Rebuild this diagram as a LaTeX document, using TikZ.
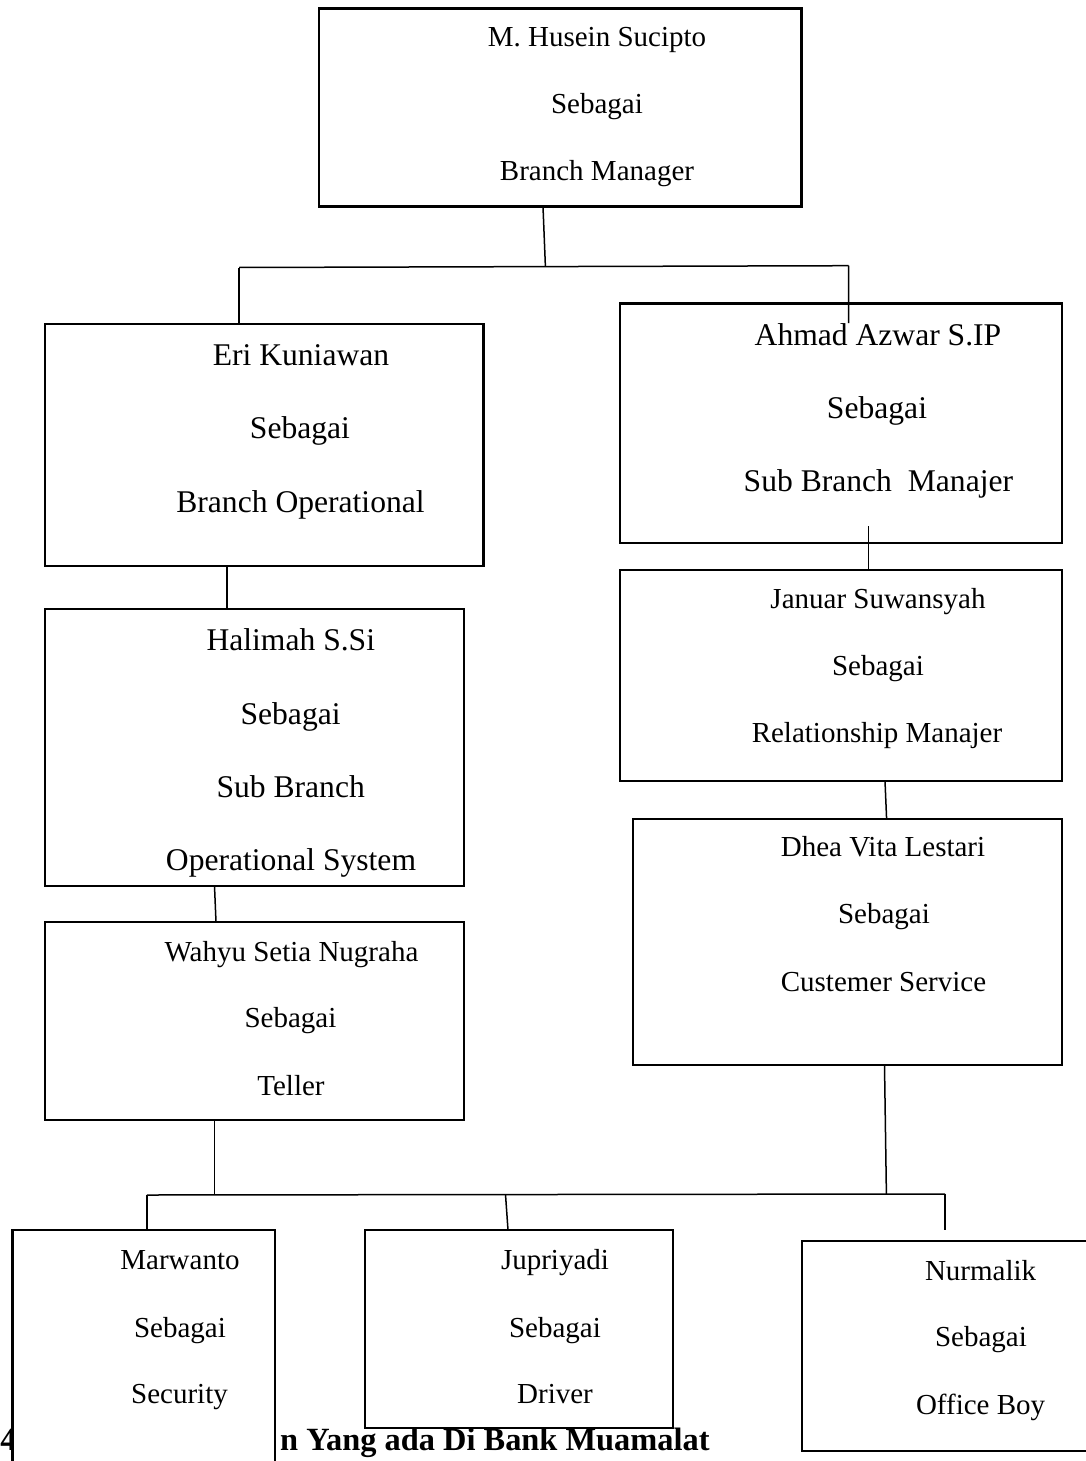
\documentclass[tikz,border=0pt]{standalone}
\usepackage{fontspec}
\setmainfont{Liberation Serif}
\newcommand\orgbox[5]{\node[box,minimum width={(#4-#2)*0.5pt},minimum height={(#5-#3)*0.5pt}] (#1) at (#2,#3) {};}
\begin{document}
\begin{tikzpicture}[x=0.5pt,y=-0.5pt,
  box/.style={draw=black, line width=1.3pt, fill=white, inner sep=0pt, outer sep=0pt, anchor=north west},
  conn/.style={draw=black, line width=0.75pt},
  sm/.style={inner sep=0pt, anchor=base, font=\fontsize{14.5pt}{17pt}\selectfont},
  lg/.style={inner sep=0pt, anchor=base, font=\fontsize{15.8pt}{18pt}\selectfont},
  captxt/.style={inner sep=0pt, font=\bfseries\fontsize{16.2pt}{19pt}\selectfont}]
\useasboundingbox (0,0) rectangle (1086,1461);
% caption (partly hidden by boxes)
\node[captxt, anchor=base west] (cap1) at (0,1450) {4};
\node[captxt, anchor=base east] (cap2) at (710,1450) {n Yang ada Di Bank Muamalat};
% boxes
\orgbox{bm}{319}{8.3}{801.5}{206.7}
\orgbox{eri}{45}{324}{483.6}{566}
\orgbox{ahm}{620}{303.5}{1062}{543}
\orgbox{hal}{45}{609}{464}{886}
\orgbox{jan}{620}{570}{1062}{781}
\orgbox{dhea}{633}{819}{1062}{1065}
\orgbox{wah}{45}{922}{464}{1120}
\orgbox{mar}{12.5}{1230}{275}{1480}
\orgbox{jup}{365}{1230}{673}{1428}
\orgbox{nur}{802}{1241}{1100}{1451}
% texts
\node[sm] (bm1) at (597,46.7) {M. Husein Sucipto};
\node[sm] (bm2) at (597,113) {Sebagai};
\node[sm] (bm3) at (597,180) {Branch Manager};
\node[lg] (eri1) at (301,365) {Eri Kuniawan};
\node[lg] (eri2) at (300,438) {Sebagai};
\node[lg] (eri3) at (300.5,512) {Branch Operational};
\node[lg] (ahm1) at (878,345) {Ahmad Azwar S.IP};
\node[lg] (ahm2) at (877,418) {Sebagai};
\node[lg] (ahm3) at (878.4,491.7) {Sub Branch\ \ Manajer};
\node[lg] (hal1) at (290.8,650.7) {Halimah S.Si};
\node[lg] (hal2) at (290.6,724) {Sebagai};
\node[lg] (hal3) at (290.7,797.7) {Sub Branch};
\node[lg] (hal4) at (291,870.7) {Operational System};
\node[sm] (jan1) at (878,608) {Januar Suwansyah};
\node[sm] (jan2) at (878,675) {Sebagai};
\node[sm] (jan3) at (877,742.7) {Relationship Manajer};
\node[sm] (dhea1) at (883,856.7) {Dhea Vita Lestari};
\node[sm] (dhea2) at (884,923) {Sebagai};
\node[sm] (dhea3) at (883.5,991.7) {Custemer Service};
\node[sm] (wah1) at (291.5,961) {Wahyu Setia Nugraha};
\node[sm] (wah2) at (290.5,1027.7) {Sebagai};
\node[sm] (wah3) at (291,1095) {Teller};
\node[sm] (mar1) at (180,1269) {Marwanto};
\node[sm] (mar2) at (180,1337) {Sebagai};
\node[sm] (mar3) at (179.5,1403) {Security};
\node[sm] (jup1) at (555,1269) {Jupriyadi};
\node[sm] (jup2) at (555,1337) {Sebagai};
\node[sm] (jup3) at (555,1403) {Driver};
\node[sm] (nur1) at (980.6,1280) {Nurmalik};
\node[sm] (nur2) at (981,1346.7) {Sebagai};
\node[sm] (nur3) at (980.6,1414) {Office Boy};
% junction coordinates
\coordinate (jt) at (545.4,266.5);
\coordinate (jl) at (239,267.5);
\coordinate (jr) at (848.7,265.7);
\coordinate (ain) at (848.5,323);
\coordinate (aout) at (868.6,526);
\coordinate (jb) at (214.5,1194.5);
\coordinate (jbl) at (146.8,1195);
\coordinate (jbm) at (505.5,1194.5);
\coordinate (jbr) at (945,1194);
\coordinate (jbd) at (886.4,1194.3);
\coordinate (nend) at (945,1230);
% connectors
\draw[conn] (bm.south -| 543,0) -- (jt);
\draw[conn] (jl) -- (jr);
\draw[conn] (jl) -- (eri.north -| jl);
\draw[conn] (jr) -- (ain);
\draw[conn] (aout) -- (jan.north -| aout);
\draw[conn] (eri.south -| 227,0) -- (hal.north -| 227,0);
\draw[conn] (jan.south -| 885,0) -- (dhea.north -| 886.6,0);
\draw[conn] (hal.south -| 214.5,0) -- (wah.north -| 216,0);
\draw[conn] (wah.south -| 214.5,0) -- (jb);
\draw[conn] (jbl) -- (jbr);
\draw[conn] (jbl) -- (mar.north -| jbl);
\draw[conn] (jbm) -- (jup.north -| 508,0);
\draw[conn] (jbr) -- (nend);
\draw[conn] (dhea.south -| 884.5,0) -- (jbd);
\end{tikzpicture}
\end{document}
